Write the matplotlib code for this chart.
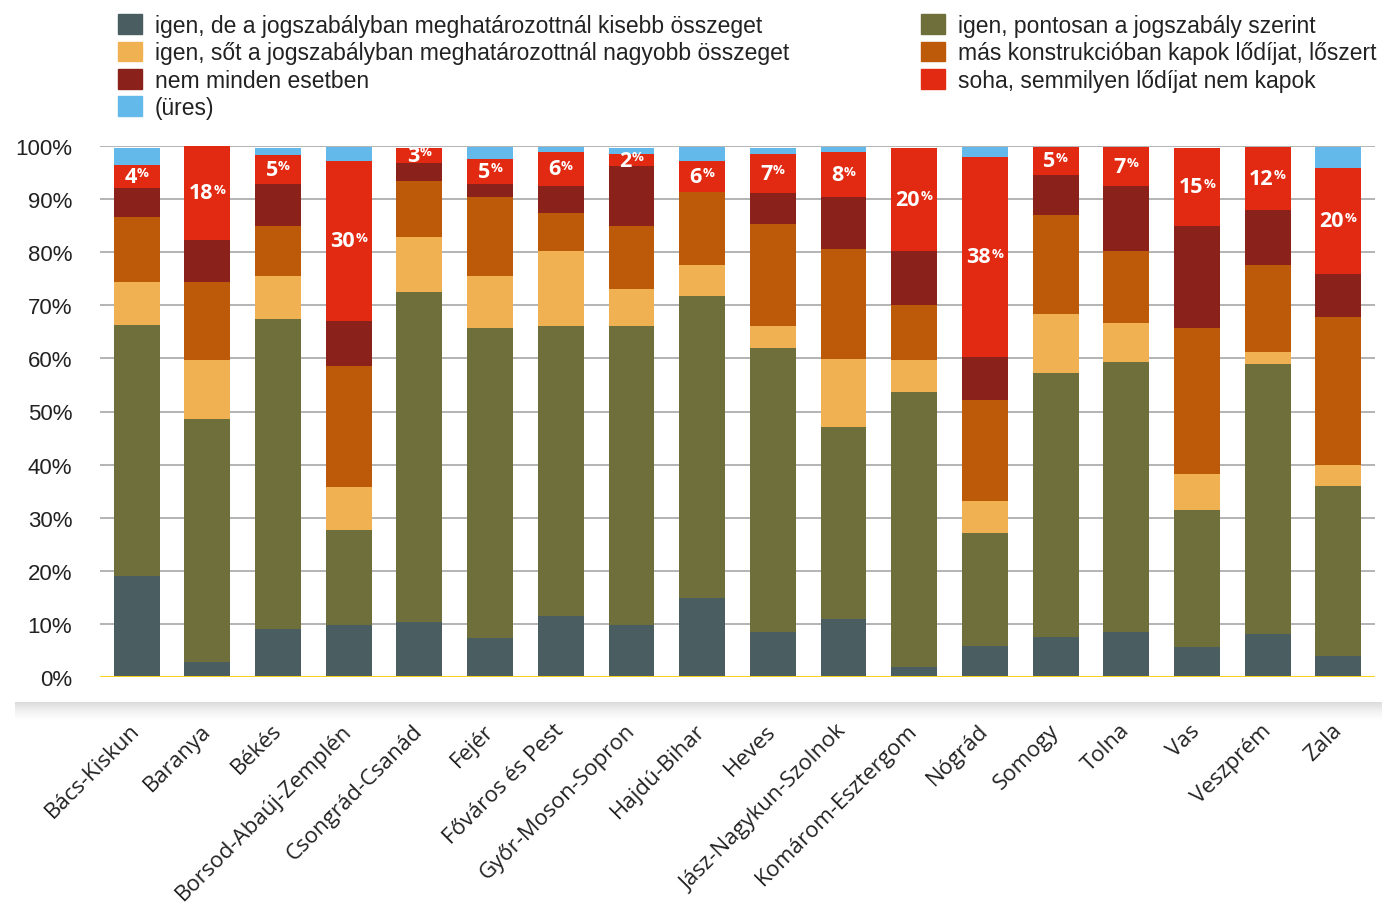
import numpy as np
import matplotlib.pyplot as plt
from matplotlib.patches import Patch

# counties (x axis)
counties = ["Bács-Kiskun", "Baranya", "Békés", "Borsod-Abaúj-Zemplén", "Csongrád-Csanád",
            "Fejér", "Főváros és Pest", "Győr-Moson-Sopron", "Hajdú-Bihar", "Heves",
            "Jász-Nagykun-Szolnok", "Komárom-Esztergom", "Nógrád", "Somogy", "Tolna",
            "Vas", "Veszprém", "Zala"]

# shares in percent, bottom to top
kisebb = [19.1, 2.9, 9.0, 9.7, 10.3, 7.3, 11.4, 9.7, 14.8, 8.5, 11.0, 1.8, 5.9, 7.6, 8.5, 5.6, 8.1, 3.9]
pontosan = [47.2, 45.6, 58.5, 17.9, 62.2, 58.5, 54.7, 56.4, 57.0, 53.5, 36.1, 51.8, 21.3, 49.7, 50.8, 25.9, 50.9, 32.1]
nagyobb = [8.0, 11.2, 8.0, 8.1, 10.4, 9.7, 14.1, 7.0, 5.8, 4.1, 12.8, 6.1, 6.0, 11.1, 7.4, 6.8, 2.2, 4.0]
mas = [12.3, 14.6, 9.4, 22.9, 10.5, 14.9, 7.2, 11.8, 13.7, 19.2, 20.7, 10.4, 19.0, 18.6, 13.5, 27.5, 16.4, 27.8]
nem_minden = [5.5, 8.0, 8.0, 8.5, 3.4, 2.5, 5.1, 11.3, 0.0, 5.9, 9.8, 10.1, 8.1, 7.6, 12.3, 19.1, 10.4, 8.1]
soha = [4.4, 17.7, 5.4, 30.1, 2.9, 4.7, 6.4, 2.3, 5.9, 7.3, 8.4, 19.5, 37.7, 5.3, 7.4, 14.8, 11.9, 20.0]
ures = [3.1, 0.0, 1.3, 2.7, 0.0, 2.3, 1.0, 1.2, 2.7, 1.2, 1.0, 0.0, 1.9, 0.0, 0.0, 0.0, 0.0, 4.0]

series = [
    ("igen, de a jogszabályban meghatározottnál kisebb összeget", kisebb, "#4a5e61"),
    ("igen, pontosan a jogszabály szerint", pontosan, "#6e6f3b"),
    ("igen, sőt a jogszabályban meghatározottnál nagyobb összeget", nagyobb, "#f0b152"),
    ("más konstrukcióban kapok lődíjat, lőszert", mas, "#bd5a09"),
    ("nem minden esetben", nem_minden, "#8a211b"),
    ("soha, semmilyen lődíjat nem kapok", soha, "#e22a12"),
    ("(üres)", ures, "#62b9ea"),
]
colors = {name: c for name, _, c in series}

fig = plt.figure(figsize=(13.82, 9.04), dpi=100)
ax = fig.add_axes([100 / 1382, 226 / 904, 1275 / 1382, 531 / 904])

x = np.arange(len(counties))
bottom = np.zeros(len(counties))
for name, vals, col in series:
    v = np.array(vals) / 100
    ax.bar(x, v, 0.65, bottom=bottom, color=col, zorder=3, linewidth=0)
    if name.startswith("soha"):
        for xi, b, h, val in zip(x, bottom, v, vals):
            t = ax.text(xi - 0.09, b + h / 2, f"{round(val)}", ha="center", va="center",
                        color="white", fontsize=15.5, fontweight="bold",
                        family="Open Sans", zorder=5)
            ax.annotate("%", xy=(1.02, 0.98), xycoords=t, ha="left", va="top",
                        color="white", fontsize=9.5, fontweight="bold",
                        family="Open Sans", zorder=5)
    bottom += v

ax.set_xlim(-0.52, len(counties) - 0.48)
ax.set_ylim(0, 1.0)
ax.set_yticks(np.arange(0, 1.01, 0.1))
ax.set_yticklabels([f"{int(round(t * 100))}%" for t in np.arange(0, 1.01, 0.1)],
                   fontsize=16, family="Liberation Sans", color="#222222")
ax.yaxis.grid(True, color="#b3b3b3", linewidth=1.4, zorder=0)
ax.set_axisbelow(True)
for s in ax.spines.values():
    s.set_visible(False)
ax.axhline(0, color="#f7d11e", linewidth=2.2, zorder=4)
ax.tick_params(axis="y", length=0, pad=20)
ax.tick_params(axis="x", length=0, pad=36)
ax.set_xticks(x)
ax.set_xticklabels(counties, rotation=45, ha="right", va="center", rotation_mode="anchor",
                   fontsize=16, family="Open Sans", color="#222222")

# shadow band under the plot panel
sh = fig.add_axes([15 / 1382, 183 / 904, 1367 / 1382, 18 / 904], zorder=0)
grad = np.linspace(1.0, 0.0, 40).reshape(-1, 1)
sh.imshow(grad, aspect="auto", cmap="Greys", vmin=0, vmax=4.0,
          extent=[0, 1, 0, 1])
sh.axis("off")

# legends
left_names = [series[0][0], series[2][0], series[4][0], series[6][0]]
right_names = [series[1][0], series[3][0], series[5][0]]
kw = dict(frameon=False, prop={"family": "Liberation Sans", "size": 16.5},
          handlelength=1.05, handleheight=0.95, handletextpad=0.55, labelspacing=0.19,
          borderpad=0, borderaxespad=0, loc="upper left")
leg1 = fig.legend([Patch(color=colors[n]) for n in left_names], left_names,
                  bbox_to_anchor=(118 / 1382, 1 - 15 / 904), **kw)
leg2 = fig.legend([Patch(color=colors[n]) for n in right_names], right_names,
                  bbox_to_anchor=(921 / 1382, 1 - 15 / 904), **kw)
for leg in (leg1, leg2):
    for txt in leg.get_texts():
        txt.set_color("#222222")

fig.savefig("out.png", dpi=100)
